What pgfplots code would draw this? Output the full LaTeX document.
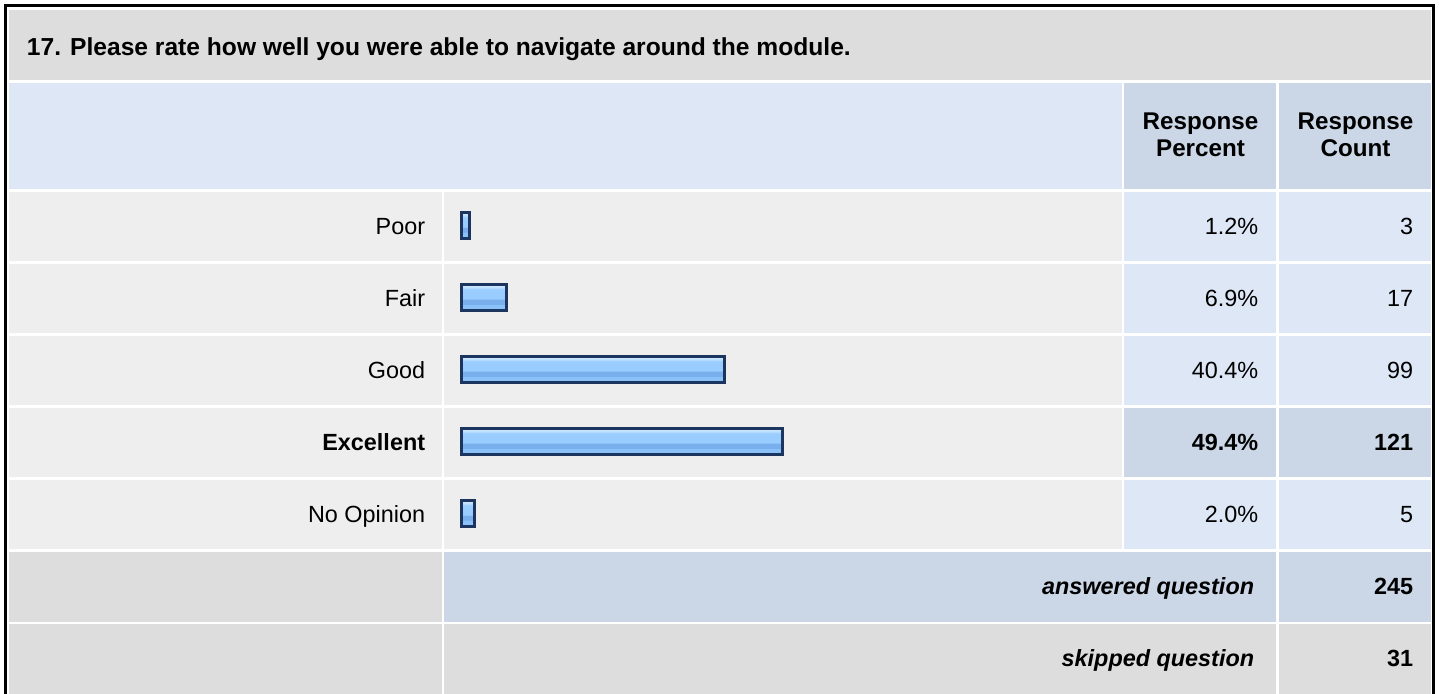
\documentclass[border=0pt]{standalone}
\usepackage{pgfplots}
\pgfplotsset{compat=1.18}
\usepackage{pgfplotstable}
\usepackage{fontspec}
\setmainfont{Liberation Sans}

\definecolor{titlebg}{HTML}{DDDDDD}
\definecolor{headbg}{HTML}{DDE7F5}
\definecolor{headcell}{HTML}{CBD7E6}
\definecolor{rowbg}{HTML}{EEEEEE}
\definecolor{valbg}{HTML}{DDE7F5}
\definecolor{hlbg}{HTML}{CBD7E6}
\definecolor{barborder}{HTML}{1C355E}
\definecolor{bbot}{HTML}{95C8FC}
\definecolor{bmid2}{HTML}{8AC1F8}
\definecolor{bdark}{HTML}{7AAFEE}
\definecolor{bmid}{HTML}{99CCFF}
\definecolor{blight}{HTML}{AED7FF}
\definecolor{btop}{HTML}{C8E4FF}

\pgfdeclareverticalshading{barshade}{100bp}{color(0bp)=(bbot); color(25bp)=(bbot); color(28bp)=(bmid2); color(36.5bp)=(bmid2); color(37bp)=(bdark); color(47bp)=(bdark); color(48bp)=(bmid); color(66bp)=(bmid); color(68bp)=(blight); color(72bp)=(btop); color(100bp)=(btop)}

\newcommand\lbl{\fontsize{11.7}{14}\selectfont}
\newcommand\ttl{\fontsize{12.3}{14.8}\selectfont\bfseries}
\newcommand\hdr{\fontsize{12.1}{14.5}\selectfont\bfseries}

\pgfplotstableread{
idx label pct count hl
0 Poor 1.2 3 0
1 Fair 6.9 17 0
2 Good 40.4 99 0
3 Excellent 49.4 121 1
4 {No Opinion} 2.0 5 0
}\datatable

\pgfplotstableread{
idx label count
5 {answered question} 245
6 {skipped question} 31
}\summarytable

\pgfplotsset{tbl/.style={width=720pt, height=347pt, scale only axis, at={(0,0)}, anchor=south west,
  hide axis, y dir=reverse, ymin=0, ymax=694, enlargelimits=false},
  txt/.style={draw=none, mark=none, nodes near coords,
    every node near coord/.append style={anchor=base east, inner sep=0pt, font=\lbl#1, text=black}},
  normalrow/.style={restrict expr to domain={\thisrow{hl}}{-0.5:0.5}},
  boldrow/.style={restrict expr to domain={\thisrow{hl}}{0.5:1.5}},
  onebar/.style={xbar, bar shift=0pt, bar width=26, draw=barborder, line width=1.5pt,
    shade, shading=barshade, restrict expr to domain={\thisrow{idx}}{#1}}}

\begin{document}
\begin{tikzpicture}
\begin{axis}[tbl, xmin=0, xmax=1440]
  \fill[white] (axis cs:0,0) rectangle (axis cs:1440,694);
  \draw[black, line width=1.5pt] (axis cs:5.5,6) rectangle (axis cs:1433.5,720);
  % title row
  \fill[titlebg] (axis cs:9,10) rectangle (axis cs:1431,80);
  % header row
  \fill[headbg] (axis cs:9,83) rectangle (axis cs:1121.5,189.5);
  \fill[headcell] (axis cs:1123.5,83) rectangle (axis cs:1276,189.5);
  \fill[headcell] (axis cs:1279,83) rectangle (axis cs:1431,189.5);
  % data rows
  \pgfplotsinvokeforeach{0,1,2,4}{
    \fill[rowbg] (axis cs:9,{192+72*#1}) rectangle (axis cs:442,{261.5+72*#1});
    \fill[rowbg] (axis cs:444,{192+72*#1}) rectangle (axis cs:1121.5,{261.5+72*#1});
    \fill[valbg] (axis cs:1123.5,{192+72*#1}) rectangle (axis cs:1276,{261.5+72*#1});
    \fill[valbg] (axis cs:1279,{192+72*#1}) rectangle (axis cs:1431,{261.5+72*#1});
  }
  \fill[rowbg] (axis cs:9,408) rectangle (axis cs:442,477.5);
  \fill[rowbg] (axis cs:444,408) rectangle (axis cs:1121.5,477.5);
  \fill[hlbg] (axis cs:1123.5,408) rectangle (axis cs:1276,477.5);
  \fill[hlbg] (axis cs:1279,408) rectangle (axis cs:1431,477.5);
  % answered row
  \fill[titlebg] (axis cs:9,552) rectangle (axis cs:442,621.5);
  \fill[hlbg] (axis cs:444,552) rectangle (axis cs:1276,621.5);
  \fill[hlbg] (axis cs:1279,552) rectangle (axis cs:1431,621.5);
  % skipped row
  \fill[titlebg] (axis cs:9,624) rectangle (axis cs:442,700);
  \fill[titlebg] (axis cs:444,624) rectangle (axis cs:1276,700);
  \fill[titlebg] (axis cs:1279,624) rectangle (axis cs:1431,700);

  % title and header text
  \node[anchor=base west, inner sep=0pt, font=\ttl] at (axis cs:26.5,56)
    {17. Please rate how well you were able to navigate around the module.};
  \node[anchor=base, inner sep=0pt, font=\hdr] at (axis cs:1200.5,130) {Response};
  \node[anchor=base, inner sep=0pt, font=\hdr] at (axis cs:1200.5,156.7) {Percent};
  \node[anchor=base, inner sep=0pt, font=\hdr] at (axis cs:1355.5,130) {Response};
  \node[anchor=base, inner sep=0pt, font=\hdr] at (axis cs:1355.5,156.7) {Count};

  % row labels
  \addplot[txt={}, normalrow, point meta=explicit symbolic]
    table[x expr=425.5, y expr=235+72*\thisrow{idx}, meta=label] {\datatable};
  \addplot[txt={\bfseries}, boldrow, point meta=explicit symbolic]
    table[x expr=425.5, y expr=235+72*\thisrow{idx}, meta=label] {\datatable};
  % percent column
  \addplot[txt={}, normalrow, point meta=explicit,
    nodes near coords={\pgfmathprintnumber[fixed,fixed zerofill,precision=1,assume math mode=true]{\pgfplotspointmeta}\%}]
    table[x expr=1258.5, y expr=235+72*\thisrow{idx}, meta=pct] {\datatable};
  \addplot[txt={\bfseries}, boldrow, point meta=explicit,
    nodes near coords={\pgfmathprintnumber[fixed,fixed zerofill,precision=1,assume math mode=true]{\pgfplotspointmeta}\%}]
    table[x expr=1258.5, y expr=235+72*\thisrow{idx}, meta=pct] {\datatable};
  % count column
  \addplot[txt={}, normalrow, point meta=explicit,
    nodes near coords={\pgfmathprintnumber[fixed,precision=0,assume math mode=true]{\pgfplotspointmeta}}]
    table[x expr=1413.5, y expr=235+72*\thisrow{idx}, meta=count] {\datatable};
  \addplot[txt={\bfseries}, boldrow, point meta=explicit,
    nodes near coords={\pgfmathprintnumber[fixed,precision=0,assume math mode=true]{\pgfplotspointmeta}}]
    table[x expr=1413.5, y expr=235+72*\thisrow{idx}, meta=count] {\datatable};
  % summary rows
  \addplot[txt={\bfseries\itshape}, point meta=explicit symbolic]
    table[x expr=1254.5, y expr=235+72*\thisrow{idx}, meta=label] {\summarytable};
  \addplot[txt={\bfseries}, point meta=explicit,
    nodes near coords={\pgfmathprintnumber[fixed,precision=0,assume math mode=true]{\pgfplotspointmeta}}]
    table[x expr=1413.5, y expr=235+72*\thisrow{idx}, meta=count] {\summarytable};
\end{axis}

\begin{axis}[tbl, xmin=-71, xmax=150.538]
  \addplot[onebar={-0.5:0.5}] table[x=pct, y expr=225.75+72*\thisrow{idx}] {\datatable};
  \addplot[onebar={0.5:1.5}] table[x=pct, y expr=225.75+72*\thisrow{idx}] {\datatable};
  \addplot[onebar={1.5:2.5}] table[x=pct, y expr=225.75+72*\thisrow{idx}] {\datatable};
  \addplot[onebar={2.5:3.5}] table[x=pct, y expr=225.75+72*\thisrow{idx}] {\datatable};
  \addplot[onebar={3.5:4.5}] table[x=pct, y expr=225.75+72*\thisrow{idx}] {\datatable};
\end{axis}
\end{tikzpicture}
\end{document}
